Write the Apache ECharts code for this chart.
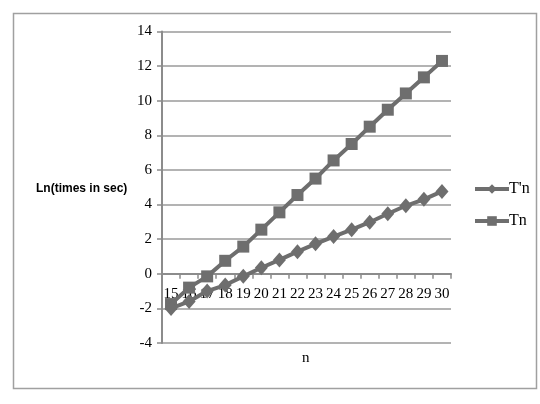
<!DOCTYPE html>
<html><head><meta charset="utf-8">
<script src="https://cdn.jsdelivr.net/npm/echarts@6/dist/echarts.min.js"></script>
<style>html,body{margin:0;padding:0;background:#fff}#c{width:540px;height:404px}</style>
</head><body><div id="c"></div>
<script>
const categories = ['15','16','17','18','19','20','21','22','23','24','25','26','27','28','29','30'];
const tPrime = [-2.0,-1.6,-1.0,-0.65,-0.15,0.35,0.8,1.28,1.73,2.15,2.55,2.98,3.47,3.93,4.3,4.76];
const tn = [-1.75,-0.8,-0.15,0.75,1.57,2.55,3.55,4.55,5.5,6.55,7.5,8.5,9.48,10.42,11.35,12.3];
const seriesNames = ["T'n", 'Tn'];
const yTicks = {min:-4, max:14, step:2};
const yTitle = 'Ln(times in sec)';
const xTitle = 'n';

const W = 540, H = 404;
const grid = {left:162, right:89, top:31.5, bottom:61};
const plotH = H - grid.top - grid.bottom;
// place the category axis where y = 0 crosses the plot
const zeroOffset = -((0 - yTicks.min) / (yTicks.max - yTicks.min)) * plotH;

const chart = echarts.init(document.getElementById('c'));
const gray = '#6e6e6e';
chart.setOption({
  backgroundColor: '#fff',
  animation: false,
  graphic: [
    {type:'rect', shape:{x:13.5,y:13.5,width:523,height:375}, style:{fill:'none', stroke:'#a0a0a0', lineWidth:1.5}, z:-1},
    {type:'text', left:36, top:183, style:{text:yTitle, font:'bold 12px "Liberation Sans", sans-serif', fill:'#000'}},
    {type:'text', left:302, top:351, style:{text:xTitle, font:'15px "Liberation Serif", serif', fill:'#000'}}
  ],
  grid: Object.assign({containLabel:false}, grid),
  legend: {
    orient:'vertical', left:468, top:176, itemGap:16, itemWidth:34, itemHeight:12,
    lineStyle:{width:4, color:gray},
    textStyle:{fontFamily:'"Liberation Serif", serif', fontSize:16, color:'#000', padding:[0,0,0,-5]},
    data: seriesNames
  },
  xAxis: {
    type:'category', data:categories, boundaryGap:true,
    position:'bottom', offset:zeroOffset,
    axisLine:{onZero:false, lineStyle:{color:'#8c8c8c', width:2}},
    axisTick:{show:true, length:5, lineStyle:{color:'#8c8c8c', width:1.5}},
    axisLabel:{fontFamily:'"Liberation Serif", serif', fontSize:15, color:'#000', margin:13, interval:0},
    splitLine:{show:false}
  },
  yAxis: {
    type:'value', min:yTicks.min, max:yTicks.max, interval:yTicks.step,
    axisLine:{show:true, lineStyle:{color:'#8c8c8c', width:2}},
    axisTick:{show:true, length:5, lineStyle:{color:'#8c8c8c', width:1.5}},
    axisLabel:{fontFamily:'"Liberation Serif", serif', fontSize:15, color:'#000', margin:10},
    splitLine:{show:true, lineStyle:{color:'#9a9a9a', width:1.5}}
  },
  series: [
    {name:seriesNames[0], type:'line', data:tPrime, symbol:'diamond', symbolSize:[13,15],
     lineStyle:{color:gray, width:4}, itemStyle:{color:gray}, z:3},
    {name:seriesNames[1], type:'line', data:tn, symbol:'rect', symbolSize:12,
     lineStyle:{color:gray, width:4}, itemStyle:{color:gray}, z:2}
  ]
});
</script></body></html>
